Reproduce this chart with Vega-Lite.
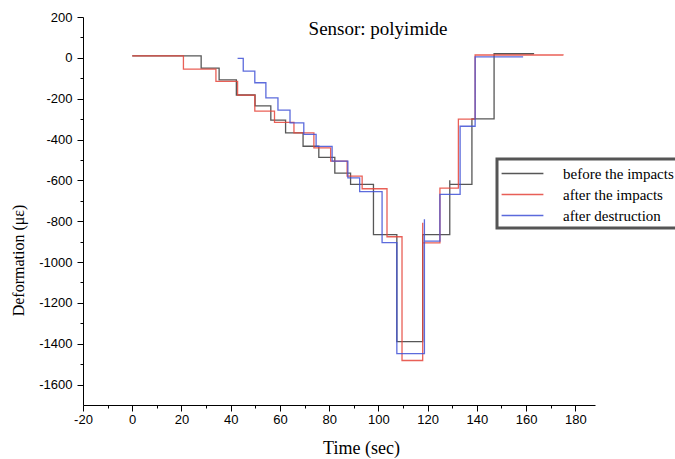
{
  "$schema": "https://vega.github.io/schema/vega-lite/v6.json",
  "width": 512,
  "height": 388,
  "autosize": {"type": "none"},
  "padding": {"left": 83, "top": 17, "right": 80, "bottom": 54},
  "background": "white",
  "title": {
    "text": "Sensor: polyimide",
    "font": "Liberation Serif",
    "fontSize": 19,
    "fontWeight": "normal",
    "color": "black",
    "anchor": "middle",
    "frame": "group",
    "dx": 39,
    "dy": 22,
    "offset": -21,
    "baseline": "alphabetic"
  },
  "data": {
    "values": [
      {"s": "before the impacts", "i": 0, "t": 0, "v": 10},
      {"s": "before the impacts", "i": 1, "t": 28, "v": -50},
      {"s": "before the impacts", "i": 2, "t": 35.3, "v": -108},
      {"s": "before the impacts", "i": 3, "t": 42.3, "v": -182},
      {"s": "before the impacts", "i": 4, "t": 49.9, "v": -235},
      {"s": "before the impacts", "i": 5, "t": 56.3, "v": -305},
      {"s": "before the impacts", "i": 6, "t": 62.3, "v": -367},
      {"s": "before the impacts", "i": 7, "t": 69.4, "v": -433},
      {"s": "before the impacts", "i": 8, "t": 75.8, "v": -487},
      {"s": "before the impacts", "i": 9, "t": 82.3, "v": -565},
      {"s": "before the impacts", "i": 10, "t": 88.7, "v": -620},
      {"s": "before the impacts", "i": 11, "t": 98, "v": -866},
      {"s": "before the impacts", "i": 12, "t": 107.5, "v": -1390},
      {"s": "before the impacts", "i": 13, "t": 118, "v": -866},
      {"s": "before the impacts", "i": 14, "t": 129, "v": -600},
      {"s": "before the impacts", "i": 15, "t": 129, "v": -620},
      {"s": "before the impacts", "i": 16, "t": 138, "v": -299},
      {"s": "before the impacts", "i": 17, "t": 147, "v": 20},
      {"s": "before the impacts", "i": 18, "t": 163, "v": 18},
      {"s": "after the impacts", "i": 0, "t": 0, "v": 10},
      {"s": "after the impacts", "i": 1, "t": 20.8, "v": -55},
      {"s": "after the impacts", "i": 2, "t": 34, "v": -115},
      {"s": "after the impacts", "i": 3, "t": 42.8, "v": -183},
      {"s": "after the impacts", "i": 4, "t": 49.8, "v": -261},
      {"s": "after the impacts", "i": 5, "t": 57.8, "v": -316},
      {"s": "after the impacts", "i": 6, "t": 65.7, "v": -367},
      {"s": "after the impacts", "i": 7, "t": 73.8, "v": -441},
      {"s": "after the impacts", "i": 8, "t": 80.6, "v": -506},
      {"s": "after the impacts", "i": 9, "t": 87.3, "v": -579},
      {"s": "after the impacts", "i": 10, "t": 93.4, "v": -641},
      {"s": "after the impacts", "i": 11, "t": 103.5, "v": -876},
      {"s": "after the impacts", "i": 12, "t": 109.6, "v": -1482},
      {"s": "after the impacts", "i": 13, "t": 118, "v": -808},
      {"s": "after the impacts", "i": 14, "t": 118, "v": -906},
      {"s": "after the impacts", "i": 15, "t": 125, "v": -638},
      {"s": "after the impacts", "i": 16, "t": 132.5, "v": -300},
      {"s": "after the impacts", "i": 17, "t": 139.3, "v": 14},
      {"s": "after the impacts", "i": 18, "t": 175, "v": 12},
      {"s": "after destruction", "i": 0, "t": 42.8, "v": -3},
      {"s": "after destruction", "i": 1, "t": 45.1, "v": -65},
      {"s": "after destruction", "i": 2, "t": 49.8, "v": -122},
      {"s": "after destruction", "i": 3, "t": 54.3, "v": -196},
      {"s": "after destruction", "i": 4, "t": 59.2, "v": -256},
      {"s": "after destruction", "i": 5, "t": 64.1, "v": -318},
      {"s": "after destruction", "i": 6, "t": 69.7, "v": -375},
      {"s": "after destruction", "i": 7, "t": 74.7, "v": -434},
      {"s": "after destruction", "i": 8, "t": 81.2, "v": -506},
      {"s": "after destruction", "i": 9, "t": 87.6, "v": -588},
      {"s": "after destruction", "i": 10, "t": 92.4, "v": -655},
      {"s": "after destruction", "i": 11, "t": 101.5, "v": -905},
      {"s": "after destruction", "i": 12, "t": 107.5, "v": -1448},
      {"s": "after destruction", "i": 13, "t": 118.7, "v": -790},
      {"s": "after destruction", "i": 14, "t": 118.7, "v": -898},
      {"s": "after destruction", "i": 15, "t": 125, "v": -669},
      {"s": "after destruction", "i": 16, "t": 133.2, "v": -335},
      {"s": "after destruction", "i": 17, "t": 139.3, "v": 5},
      {"s": "after destruction", "i": 18, "t": 158.8, "v": 5}
    ]
  },
  "layer": [
    {
      "mark": {"type": "line", "interpolate": "step-after", "strokeWidth": 1.3, "opacity": 0.85},
      "encoding": {
        "x": {
          "field": "t",
          "type": "quantitative",
          "scale": {"domain": [-20, 188], "nice": false, "zero": false},
          "axis": {
            "values": [-20, 0, 20, 40, 60, 80, 100, 120, 140, 160, 180],
            "title": "Time (sec)",
            "titleFont": "Liberation Serif",
            "titleFontSize": 18,
            "titleFontWeight": "normal",
            "titleColor": "black",
            "titleX": 278,
            "titleY": 48,
            "titleBaseline": "alphabetic",
            "titleAlign": "center",
            "labelFont": "Liberation Sans",
            "labelFontSize": 13,
            "labelColor": "black",
            "labelPadding": 2,
            "labelFlush": false,
            "labelOverlap": false,
            "labelExpr": "'' + datum.value",
            "tickSize": 6,
            "tickColor": "black",
            "domainColor": "black",
            "grid": false
          }
        },
        "y": {
          "field": "v",
          "type": "quantitative",
          "scale": {"domain": [-1700, 200], "nice": false, "zero": false},
          "axis": {
            "values": [-1600, -1400, -1200, -1000, -800, -600, -400, -200, 0, 200],
            "title": "Deformation (με)",
            "titleFont": "Liberation Serif",
            "titleFontSize": 16,
            "titleFontWeight": "normal",
            "titleColor": "black",
            "titleAngle": 270,
            "titleX": -60,
            "titleY": 243,
            "titleBaseline": "alphabetic",
            "titleAlign": "center",
            "labelFont": "Liberation Sans",
            "labelFontSize": 13,
            "labelColor": "black",
            "labelPadding": 5,
            "labelFlush": false,
            "labelOverlap": false,
            "labelExpr": "'' + datum.value",
            "tickSize": 6,
            "tickColor": "black",
            "domainColor": "black",
            "grid": false
          }
        },
        "color": {
          "field": "s",
          "type": "nominal",
          "scale": {
            "domain": ["before the impacts", "after the impacts", "after destruction"],
            "range": ["#3a3a3a", "#e5443a", "#3f51d6"]
          },
          "legend": {
            "orient": "none",
            "legendX": 414,
            "legendY": 142,
            "title": null,
            "symbolType": "M-2.2,0L2.2,0",
            "symbolSize": 361,
            "symbolStrokeWidth": 1.3,
            "labelFont": "Liberation Serif",
            "labelFontSize": 15,
            "labelColor": "black",
            "strokeColor": "#555555",
            "fillColor": "white",
            "padding": 4,
            "labelOffset": 30,
            "symbolOffset": 11,
            "rowPadding": 2
          }
        },
        "order": {"field": "i"}
      }
    },
    {
      "mark": {"type": "point", "opacity": 0},
      "encoding": {
        "x": {
          "field": "t",
          "type": "quantitative",
          "axis": {
            "orient": "bottom",
            "values": [-10, 10, 30, 50, 70, 90, 110, 130, 150, 170],
            "labels": false,
            "domain": false,
            "tickSize": 3,
            "tickColor": "black",
            "title": null,
            "grid": false
          }
        },
        "y": {
          "field": "v",
          "type": "quantitative",
          "axis": {
            "orient": "left",
            "values": [-1500, -1300, -1100, -900, -700, -500, -300, -100, 100],
            "labels": false,
            "domain": false,
            "tickSize": 3,
            "tickColor": "black",
            "title": null,
            "grid": false
          }
        }
      }
    }
  ],
  "resolve": {"axis": {"x": "independent", "y": "independent"}},
  "config": {"view": {"stroke": null}, "legend": {"strokeWidth": 3}}
}
